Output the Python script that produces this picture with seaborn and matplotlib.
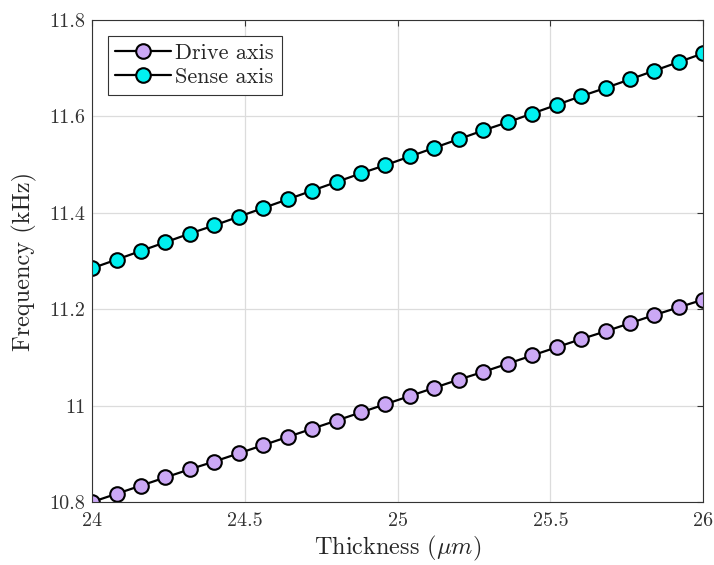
import numpy as np
import pandas as pd
import matplotlib
matplotlib.use("Agg")
import matplotlib.pyplot as plt
import seaborn as sns

# datos
thickness = [24.00, 24.08, 24.16, 24.24, 24.32, 24.40, 24.48, 24.56, 24.64,
             24.72, 24.80, 24.88, 24.96, 25.04, 25.12, 25.20, 25.28, 25.36,
             25.44, 25.52, 25.60, 25.68, 25.76, 25.84, 25.92, 26.00]
drive_khz = [10.800, 10.817, 10.834, 10.851, 10.868, 10.884, 10.901, 10.918,
             10.935, 10.952, 10.969, 10.986, 11.003, 11.020, 11.037, 11.054,
             11.070, 11.087, 11.104, 11.121, 11.138, 11.154, 11.171, 11.188,
             11.204, 11.220]
sense_khz = [11.285, 11.303, 11.321, 11.339, 11.357, 11.374, 11.392, 11.410,
             11.428, 11.446, 11.464, 11.482, 11.499, 11.517, 11.535, 11.553,
             11.571, 11.588, 11.606, 11.624, 11.642, 11.659, 11.677, 11.695,
             11.713, 11.731]
x_ticks = [24, 24.5, 25, 25.5, 26]
x_ticklabels = ["24", "24.5", "25", "25.5", "26"]
y_ticks = [10.8, 11.0, 11.2, 11.4, 11.6, 11.8]
y_ticklabels = ["10.8", "11", "11.2", "11.4", "11.6", "11.8"]

sns.set_style("white")
plt.rcParams['font.family'] = ['cmr10', 'DejaVu Serif']
plt.rcParams['mathtext.fontset'] = 'cm'
plt.rcParams['axes.unicode_minus'] = False

fig = plt.figure(figsize=(7.14, 5.65), dpi=100)
ax = fig.add_axes([0.129, 0.1115, 0.856, 0.853])

df = pd.DataFrame({'t': thickness, 'drive': drive_khz, 'sense': sense_khz})
sns.lineplot(x='t', y='drive', data=df, ax=ax, color='black', lw=1.6,
             marker='o', markersize=10.5, markerfacecolor='#CBA8F5',
             markeredgecolor='black', markeredgewidth=1.5, label='Drive axis')
sns.lineplot(x='t', y='sense', data=df, ax=ax, color='black', lw=1.6,
             marker='o', markersize=10.5, markerfacecolor='#00F0F0',
             markeredgecolor='black', markeredgewidth=1.5, label='Sense axis')

ax.set_xlim(24, 26)
ax.set_ylim(10.8, 11.8)
ax.set_xticks(x_ticks)
ax.set_xticklabels(x_ticklabels)
ax.set_yticks(y_ticks)
ax.set_yticklabels(y_ticklabels)
ax.grid(True, color='#dcdcdc', lw=0.9)
ax.set_axisbelow(True)
ax.tick_params(direction='in', top=True, right=True, length=4, width=0.8,
               labelsize=14.5, colors='#333333')
ax.tick_params(axis='x', pad=7)
ax.tick_params(axis='y', pad=5)
for s in ax.spines.values():
    s.set_color('#333333')
    s.set_linewidth(0.8)
    s.set_visible(True)

ax.set_xlabel(r'Thickness ($\mu m$)', fontsize=17.5, color='#262626', labelpad=3)
ax.set_ylabel('Frequency (kHz)', fontsize=17.5, color='#262626', labelpad=9)

leg = ax.legend(loc='upper left', fontsize=16, frameon=True, fancybox=False,
                edgecolor='#333333', framealpha=1, borderpad=0.35,
                handlelength=2.5, handletextpad=0.2, labelspacing=0.2,
                borderaxespad=0.7)
leg.get_frame().set_linewidth(0.8)

fig.savefig('out.png', dpi=100)
